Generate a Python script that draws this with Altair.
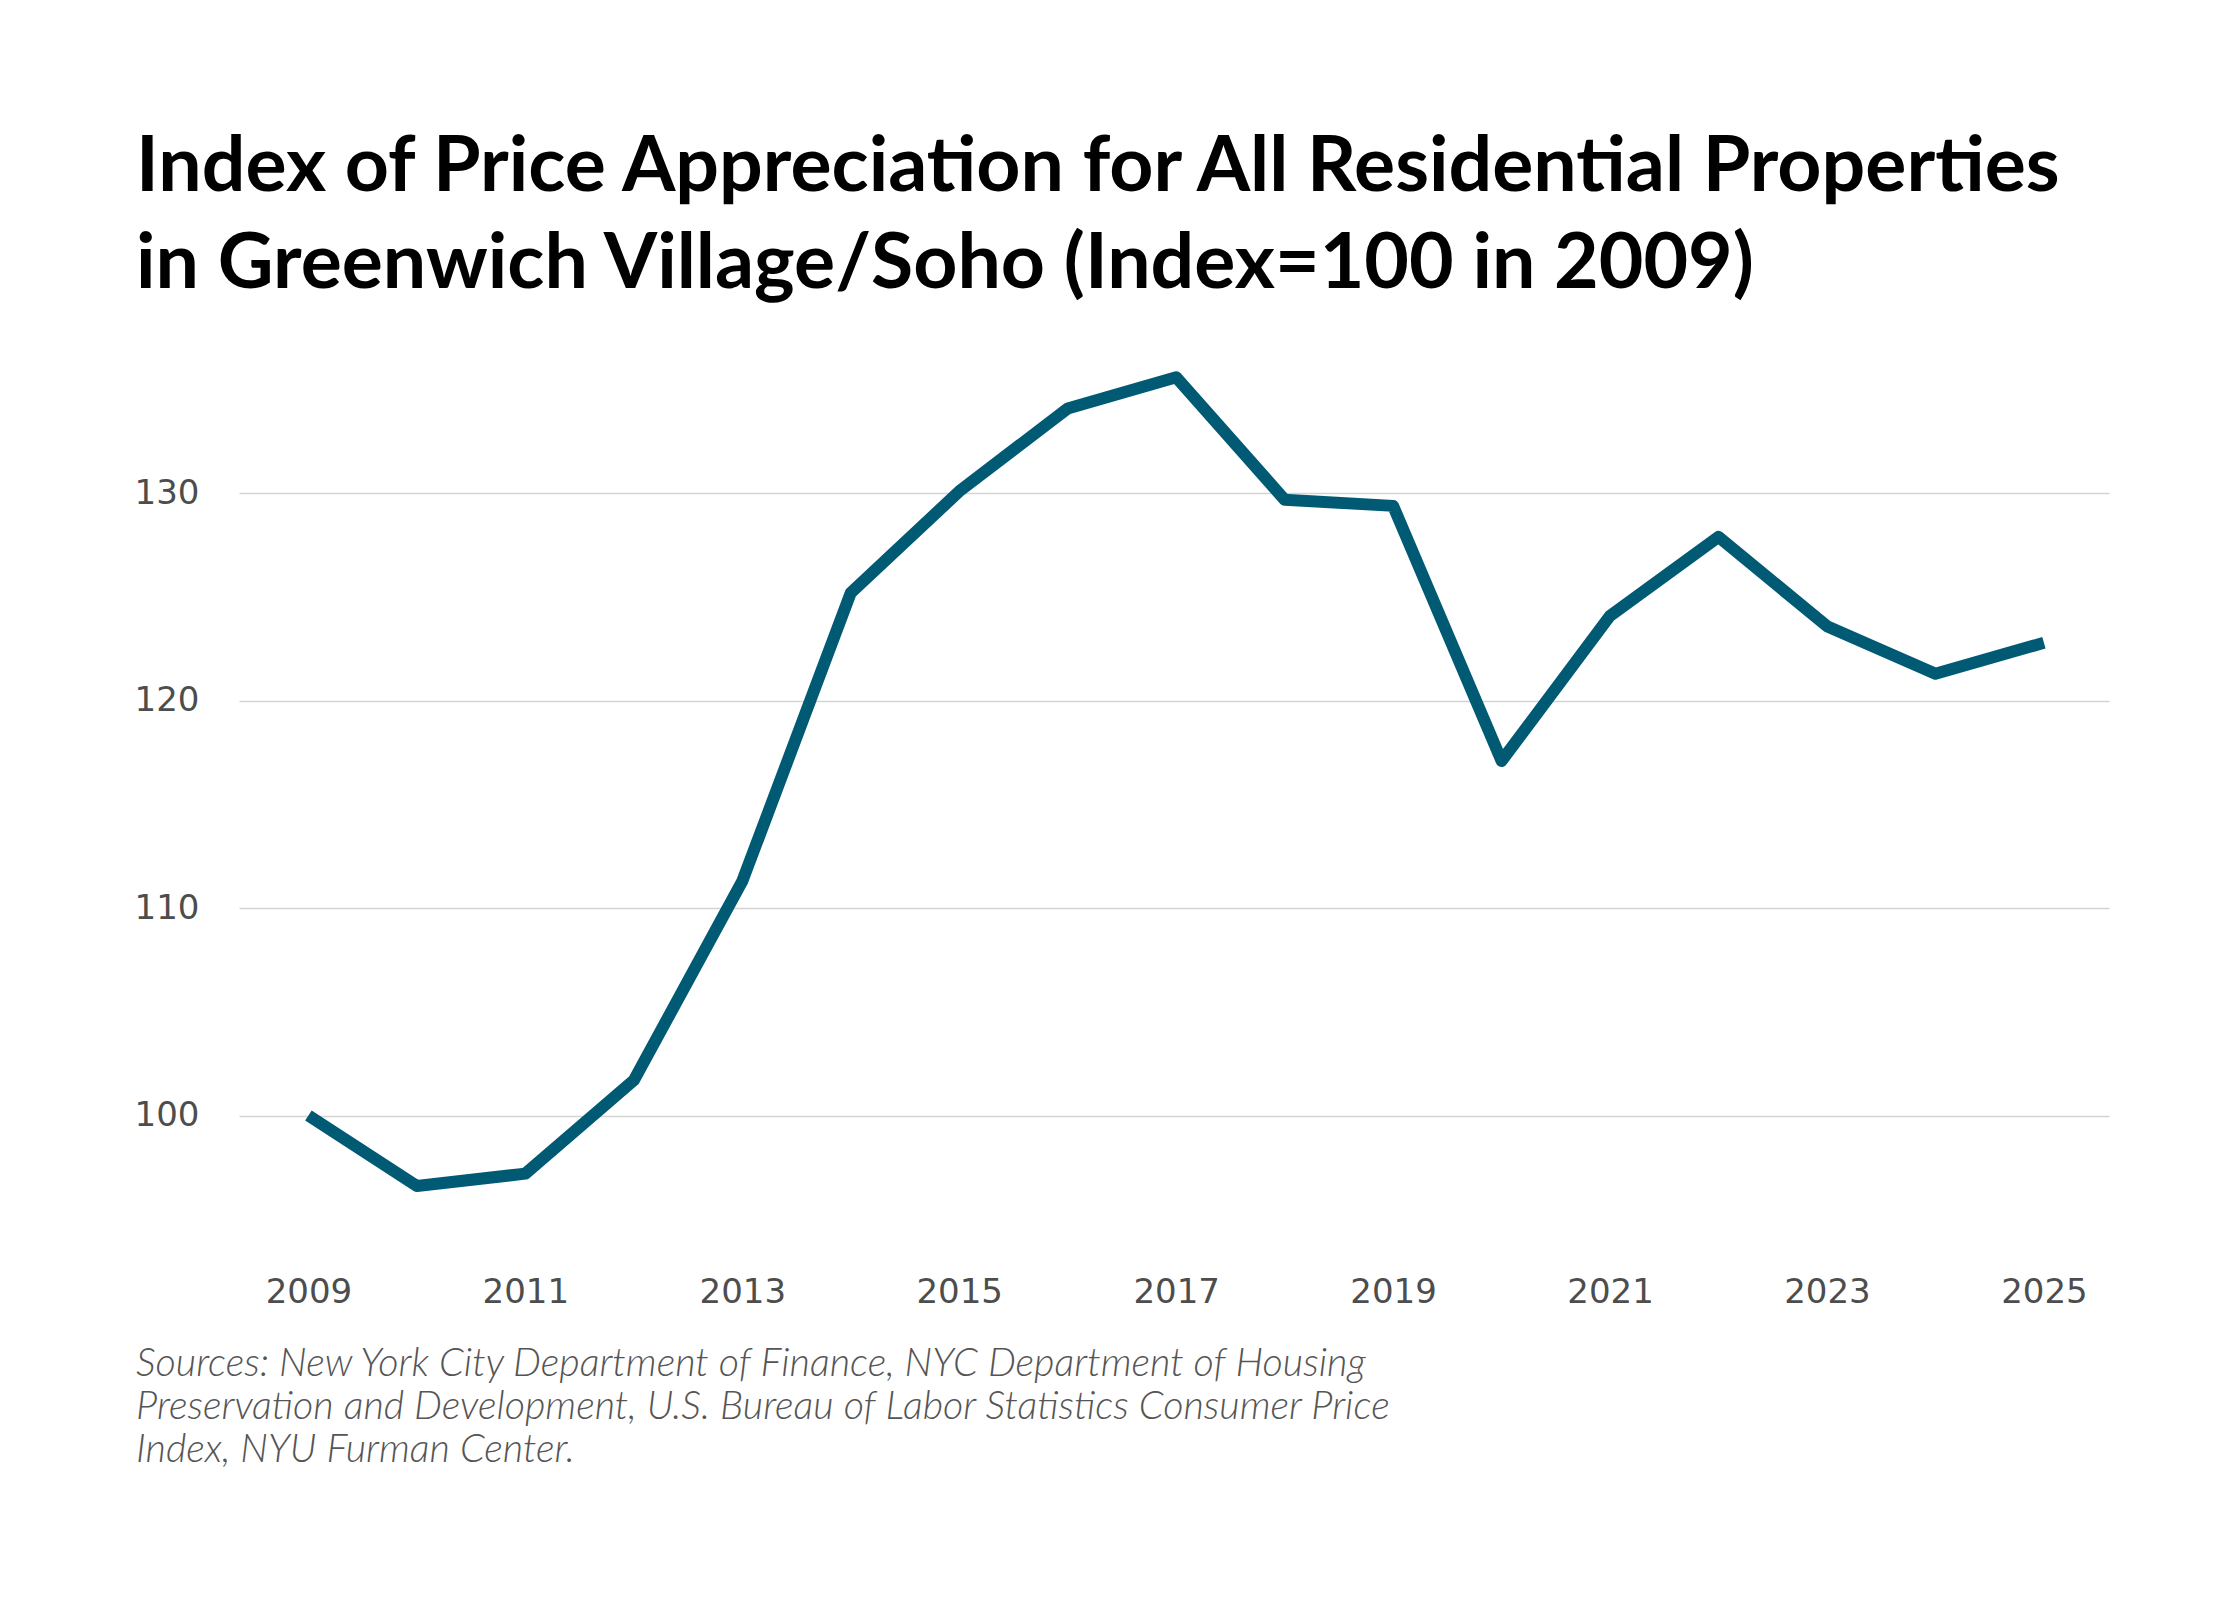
import altair as alt
import pandas as pd

# Index of price appreciation, Greenwich Village/Soho (2009 = 100)
years = list(range(2009, 2026))
index_values = [100.0, 96.6, 97.2, 101.7, 111.3, 125.2, 130.1, 134.1, 135.6,
                129.7, 129.4, 117.1, 124.1, 127.9, 123.6, 121.3, 122.8]

x_ticks = [2009, 2011, 2013, 2015, 2017, 2019, 2021, 2023, 2025]
y_ticks = [100, 110, 120, 130]

title_lines = [
    "Index of Price Appreciation for All Residential Properties",
    "in Greenwich Village/Soho (Index=100 in 2009)",
]
source_lines = [
    "Sources: New York City Department of Finance, NYC Department of Housing",
    "Preservation and Development, U.S. Bureau of Labor Statistics Consumer Price",
    "Index, NYU Furman Center.",
]

df = pd.DataFrame({"year": years, "index": index_values})
# one row only, so the note is drawn once
note_df = pd.DataFrame({"note": ["\n".join(source_lines)]})

line = alt.Chart(df).mark_line(
    color="#005a73", strokeWidth=12, strokeJoin="round", strokeCap="butt"
).encode(
    x=alt.X("year:Q",
            scale=alt.Scale(domain=[2008.36, 2025.6], nice=False, zero=False),
            axis=alt.Axis(values=x_ticks, format="d", grid=False, domain=False,
                          ticks=False, tickSize=0, labelPadding=35, title=None,
                          labelFont="DejaVu Sans", labelFontSize=34,
                          labelColor="#4d4d4d")),
    y=alt.Y("index:Q",
            scale=alt.Scale(domain=[94, 136], nice=False, zero=False),
            axis=alt.Axis(values=y_ticks, format="d", grid=True, domain=False,
                          ticks=False, tickSize=0, labelPadding=40, title=None,
                          labelFont="DejaVu Sans", labelFontSize=34,
                          labelColor="#4d4d4d", gridColor="#d4d4d4",
                          gridWidth=1.5)),
)

sources = alt.Chart(note_df).mark_text(
    align="left", baseline="top", lineBreak="\n", lineHeight=43,
    font="Lato", fontSize=39.5, fontStyle="italic", fontWeight=300,
    color="#555555",
).encode(
    text="note:N",
    x=alt.value(-103),
    y=alt.value(976),
)

chart = alt.layer(line, sources).properties(
    width=1870,
    height=871,
    autosize=alt.AutoSizeParams(type="none"),
    padding={"left": 231, "top": 361, "right": 123, "bottom": 352},
    title=alt.TitleParams(
        text=title_lines, anchor="start", frame="group", dx=-103,
        font="Lato", fontSize=77, fontWeight="bold", color="#000000",
        lineHeight=97, baseline="alphabetic", offset=4,
    ),
).configure_view(stroke=None)

chart.save("out.html", embed_options={"renderer": "svg", "actions": False})
